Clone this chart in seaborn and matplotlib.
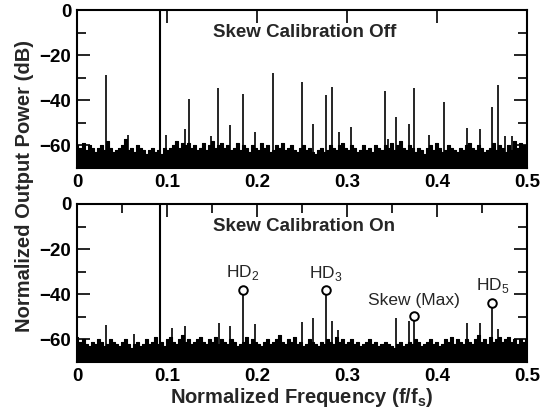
"""Output spectrum with skew calibration off / on (two stacked panels)."""

import matplotlib

matplotlib.use("Agg")
import matplotlib.pyplot as plt
import numpy as np
import pandas as pd
import seaborn as sns
from matplotlib.ticker import FormatStrFormatter, MultipleLocator

# ---------- data ----------

fundamental = 0.092

# spurs, calibration off: (normalized freq, dB)
spur_off_freq = [0.0322, 0.0563, 0.0989, 0.12, 0.1248, 0.149, 0.157, 0.17, 0.184,
                 0.198, 0.2174, 0.25, 0.2626, 0.2763, 0.2833, 0.2907, 0.305, 0.342,
                 0.346, 0.3548, 0.369, 0.375, 0.391, 0.408, 0.433, 0.448, 0.4615,
                 0.4678, 0.4756, 0.483]
spur_off_db = [-29, -55.5, -55.5, -52.6, -39.4, -56, -34.7, -51, -37, -54, -28,
               -32.1, -50.4, -37.7, -34.2, -54, -52, -35.9, -57, -47.3, -50.5,
               -34.7, -55.5, -40.6, -52.3, -52.9, -43, -33, -56, -55.7]

# spurs, calibration on
spur_on_freq = [0.0322, 0.0637, 0.106, 0.12, 0.158, 0.17, 0.198, 0.25, 0.2626,
                0.283, 0.29, 0.3544, 0.369, 0.433, 0.4474, 0.4678]
spur_on_db = [-53.4, -57.4, -54.9, -54, -52.6, -54, -53.1, -52.3, -50.4, -51.7,
              -56, -50.7, -52, -52.6, -52.9, -55.4]

# marked tones, calibration on
mark_labels = [r"HD$_\mathregular{2}$", r"HD$_\mathregular{3}$", "Skew (Max)",
               r"HD$_\mathregular{5}$"]
mark_freq = [0.184, 0.2767, 0.3744, 0.4615]
mark_db = [-38.1, -38.3, -49.5, -44]

# noise floor (150 bins over 0..0.5), top edge in dB
noise_off = [
    -60, -61, -59, -62, -60, -61, -63, -61, -60, -62, -58, -61, -63, -62, -61,
    -60, -57, -62, -61, -63, -60, -61, -62, -64, -62, -61, -63, -62, -64, -61,
    -62, -61, -60, -58, -61, -59, -60, -59, -61, -60, -62, -61, -59, -62, -60,
    -58, -61, -60, -59, -61, -60, -62, -61, -59, -62, -60, -61, -63, -60, -61,
    -62, -59, -61, -60, -63, -62, -60, -61, -59, -62, -61, -60, -62, -63, -61,
    -60, -62, -61, -63, -64, -62, -61, -63, -62, -60, -61, -62, -60, -59, -61,
    -62, -60, -61, -63, -62, -60, -62, -61, -63, -60, -61, -62, -60, -61, -59,
    -62, -60, -58, -61, -62, -60, -61, -63, -61, -62, -64, -61, -60, -62, -59,
    -61, -63, -62, -60, -61, -62, -63, -61, -62, -60, -59, -61, -62, -60, -61,
    -63, -62, -61, -59, -62, -60, -61, -63, -60, -62, -58, -61, -59, -60, -61,
]
noise_on = [
    -59, -61, -60, -62, -63, -61, -62, -60, -61, -63, -62, -60, -61, -62, -63,
    -61, -60, -62, -64, -62, -61, -63, -62, -60, -62, -61, -59, -62, -61, -63,
    -60, -59, -61, -62, -60, -58, -61, -60, -62, -61, -60, -59, -61, -62, -60,
    -61, -59, -62, -60, -61, -62, -60, -61, -63, -62, -61, -59, -62, -60, -61,
    -62, -63, -61, -60, -62, -61, -60, -58, -61, -62, -60, -61, -59, -62, -61,
    -63, -62, -60, -61, -62, -63, -61, -62, -60, -61, -62, -59, -61, -60, -62,
    -61, -60, -62, -61, -63, -62, -61, -60, -62, -61, -63, -62, -61, -62, -63,
    -64, -62, -61, -63, -62, -61, -62, -60, -61, -63, -62, -61, -60, -62, -61,
    -63, -62, -60, -61, -59, -62, -60, -61, -62, -60, -61, -62, -60, -58, -61,
    -60, -62, -59, -61, -60, -59, -61, -60, -59, -61, -60, -62, -60, -61, -60,
]

titles = ["Skew Calibration Off", "Skew Calibration On"]

# ---------- plotting ----------

sns.set_theme(style="ticks", rc={
    "xtick.direction": "in",
    "ytick.direction": "in",
    "xtick.top": True,
    "ytick.right": True,
    "xtick.major.size": 9.5,
    "ytick.major.size": 9.5,
    "xtick.minor.size": 6.5,
    "ytick.minor.size": 6.5,
    "xtick.major.width": 1.2,
    "ytick.major.width": 1.2,
    "xtick.minor.width": 1.2,
    "ytick.minor.width": 1.2,
    "xtick.color": "black",
    "ytick.color": "black",
    "axes.edgecolor": "black",
    "axes.linewidth": 1.5,
})
plt.rcParams["font.family"] = ["Liberation Sans", "DejaVu Sans"]
plt.rcParams["mathtext.fontset"] = "custom"
plt.rcParams["mathtext.rm"] = "Liberation Sans"
plt.rcParams["mathtext.bf"] = "Liberation Sans:bold"

fig = plt.figure(figsize=(5.51, 4.18), dpi=100)
ax_top = fig.add_axes([0.1397, 0.598, 0.8167, 0.378])
ax_bot = fig.add_axes([0.1397, 0.134, 0.8167, 0.378])


def draw_panel(ax, noise, spur_f, spur_db, title, top_minor):
    freq = np.linspace(0, 0.5, len(noise))
    df = pd.DataFrame({"freq": freq, "db": noise})
    ax.fill_between(df["freq"], df["db"], -90, step="mid", color="black", lw=0)
    sns.lineplot(data=df, x="freq", y="db", ax=ax, color="black", lw=0.8,
                 drawstyle="steps-mid", estimator=None)
    ax.vlines(spur_f, -90, spur_db, color="black", lw=1.2)
    ax.vlines([fundamental], -90, 0, color="black", lw=1.5)
    ax.set_xlim(0, 0.5)
    ax.set_ylim(-70, 0)
    ax.xaxis.set_major_locator(MultipleLocator(0.1))
    ax.xaxis.set_minor_locator(MultipleLocator(0.05))
    ax.xaxis.set_major_formatter(FormatStrFormatter("%g"))
    ax.yaxis.set_major_locator(MultipleLocator(20))
    ax.yaxis.set_minor_locator(MultipleLocator(10))
    ax.tick_params(which="both", direction="in", left=True, right=True,
                   bottom=True, top=True, labelsize=13.5)
    ax.tick_params(which="major", pad=4)
    if not top_minor:
        ax.tick_params(which="minor", top=False)
    for lab in ax.get_xticklabels() + ax.get_yticklabels():
        lab.set_fontweight("bold")
    ax.set_xlabel("")
    ax.set_ylabel("")
    ax.text(0.505, 0.855, title, transform=ax.transAxes, ha="center",
            va="center", fontsize=13.5, fontweight="bold")


draw_panel(ax_top, noise_off, spur_off_freq, spur_off_db, titles[0], False)
draw_panel(ax_bot, noise_on, spur_on_freq, spur_on_db, titles[1], True)

# marked tones on the calibrated spectrum
ax_bot.vlines(mark_freq, -90, mark_db, color="black", lw=1.2)
marks = pd.DataFrame({"freq": mark_freq, "db": mark_db})
sns.scatterplot(data=marks, x="freq", y="db", ax=ax_bot, marker="o", s=38,
                facecolor="white", edgecolor="black", linewidth=1.4, zorder=5)
for lab, f, d in zip(mark_labels, mark_freq, mark_db):
    ax_bot.text(f, d + 3.5, lab, ha="center", va="bottom", fontsize=12.5)

ax_bot.set_xlabel(r"Normalized Frequency (f/f$_\mathbf{s}$)", fontsize=14.5,
                  fontweight="bold", labelpad=1)
ax_bot.set_ylabel("")
fig.text(0.045, 0.555, "Normalized Output Power (dB)", rotation=90,
         ha="center", va="center", fontsize=14.5, fontweight="bold")

fig.savefig("out.png", dpi=100)
